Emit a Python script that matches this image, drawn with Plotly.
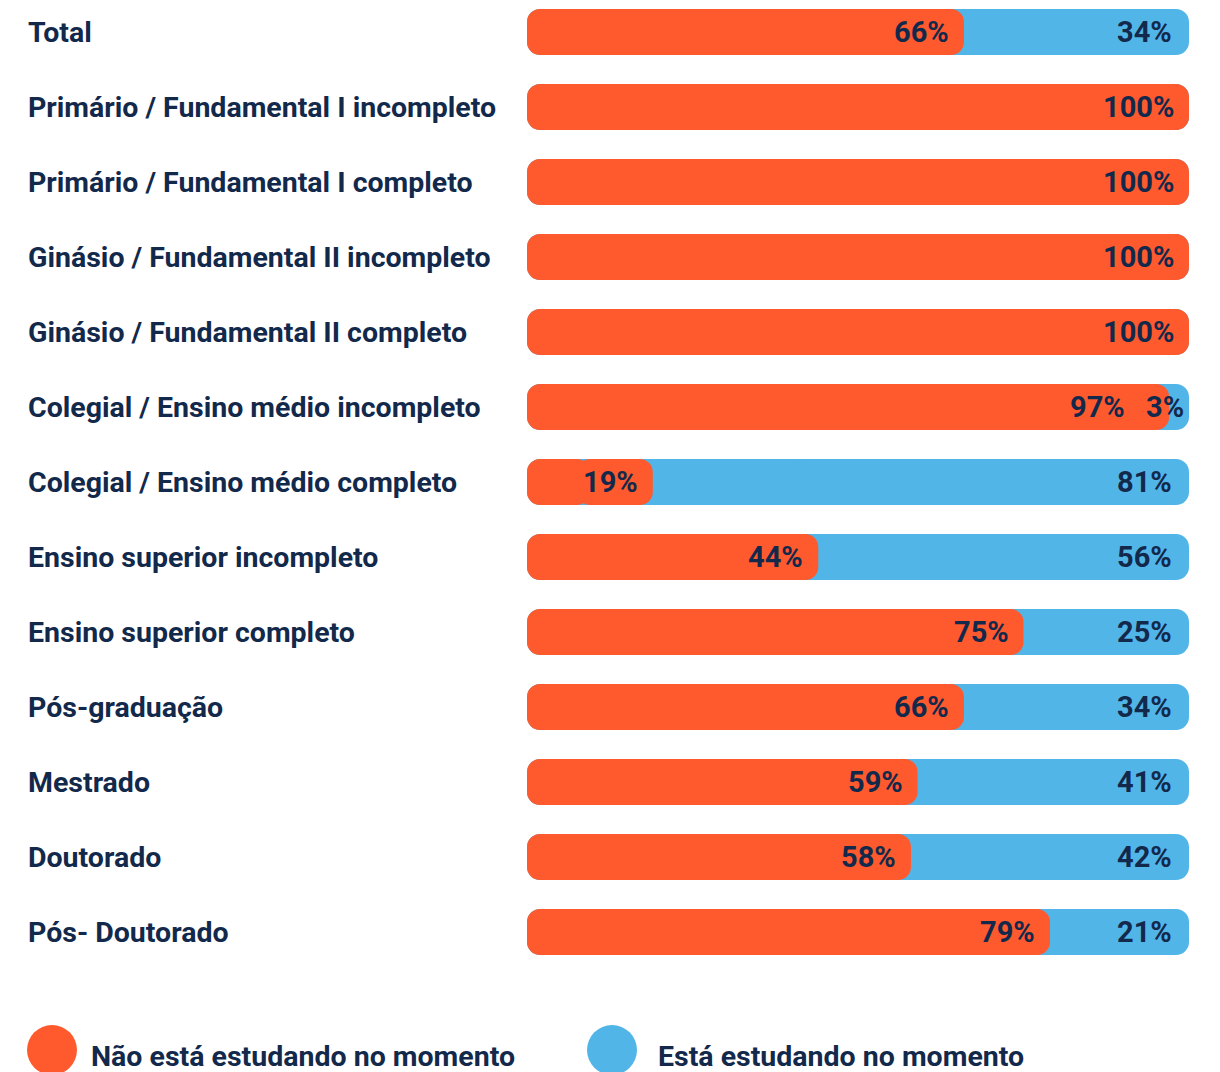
import plotly.graph_objects as go

categories = [
    "Total",
    "Primário / Fundamental I incompleto",
    "Primário / Fundamental I completo",
    "Ginásio / Fundamental II incompleto",
    "Ginásio / Fundamental II completo",
    "Colegial / Ensino médio incompleto",
    "Colegial / Ensino médio completo",
    "Ensino superior incompleto",
    "Ensino superior completo",
    "Pós-graduação",
    "Mestrado",
    "Doutorado",
    "Pós- Doutorado",
]
nao_estuda = [66, 100, 100, 100, 100, 97, 19, 44, 75, 66, 59, 58, 79]
estuda = [34, 0, 0, 0, 0, 3, 81, 56, 25, 34, 41, 42, 21]
series_names = ["Não está estudando no momento", "Está estudando no momento"]

ORANGE = "#FF5A2E"
BLUE = "#52B5E8"
NAVY = "#13294B"
FONT = "Roboto"
RADIUS = 13

W, H = 1220, 1072
ML, MR, MT, MB = 527, 31, 5, 72
pw = W - ML - MR
ph = H - MT - MB

STEP = 75.0      # pixels per category
TOP_CENTER = 32  # pixel centre of first bar
BAR_PX = 46      # bar thickness in pixels

def px_to_paper_x(px):
    return (px - ML) / pw

def px_to_paper_y(py):
    return (H - MB - py) / ph

totals = [a + b for a, b in zip(nao_estuda, estuda)]

def rounded_bar(values, color, name, customdata=None):
    """Two overlapping halves so that both ends get rounded corners."""
    left = go.Bar(
        y=categories, x=[-v * 0.5 for v in values], base=[v * 0.5 for v in values],
        orientation="h", marker=dict(color=color, cornerradius=RADIUS, line=dict(width=0)),
        hoverinfo="skip", name=name,
    )
    right = go.Bar(
        y=categories, x=[v * 0.6 for v in values], base=[v * 0.4 for v in values],
        orientation="h", marker=dict(color=color, cornerradius=RADIUS, line=dict(width=0)),
        name=name,
        customdata=customdata if customdata is not None else values,
        hovertemplate="%{y}<br>" + name + ": %{customdata}%<extra></extra>",
    )
    return [left, right]

fig = go.Figure()
for t in rounded_bar(totals, BLUE, series_names[1], customdata=estuda):
    fig.add_trace(t)
for t in rounded_bar(nao_estuda, ORANGE, series_names[0]):
    fig.add_trace(t)

value_font = dict(family=FONT, size=29, color=NAVY, weight=700)
annotations = []
for c, o, e, tot in zip(categories, nao_estuda, estuda, totals):
    small = 0 < e < 8
    annotations.append(dict(
        x=o, xref="x", xanchor="right", xshift=-42 if small else -13,
        y=c, yref="y", yanchor="middle",
        text=f"{o}%", showarrow=False, font=value_font,
    ))
    if e > 0:
        annotations.append(dict(
            x=tot, xref="x", xanchor="right", xshift=-3 if small else -15,
            y=c, yref="y", yanchor="middle",
            text=f"{e}%", showarrow=False, font=value_font,
        ))

y0 = (MT - TOP_CENTER) / STEP
y1 = y0 + ph / STEP

for c in categories:
    annotations.append(dict(
        x=px_to_paper_x(26), xref="paper", xanchor="left",
        y=c, yref="y", yanchor="middle",
        text=c, showarrow=False,
        font=dict(family=FONT, size=28.5, color=NAVY, weight=700),
    ))

shapes = []
legend_items = [(52, ORANGE, 89, series_names[0]), (612, BLUE, 656, series_names[1])]
for cx, col, tx, label in legend_items:
    r = 25
    cy = 1050
    shapes.append(dict(
        type="circle", xref="paper", yref="paper",
        x0=px_to_paper_x(cx - r), x1=px_to_paper_x(cx + r),
        y0=px_to_paper_y(cy + r), y1=px_to_paper_y(cy - r),
        fillcolor=col, line=dict(width=0),
    ))
    annotations.append(dict(
        x=px_to_paper_x(tx), xref="paper", xanchor="left",
        y=px_to_paper_y(1056), yref="paper", yanchor="middle",
        text=label, showarrow=False,
        font=dict(family=FONT, size=28.5, color=NAVY, weight=700),
    ))

fig.update_layout(
    width=W, height=H,
    margin=dict(l=ML, r=MR, t=MT, b=MB),
    barmode="overlay",
    bargap=1 - BAR_PX / STEP,
    paper_bgcolor="white", plot_bgcolor="white",
    showlegend=False,
    xaxis=dict(range=[0, 100], visible=False, fixedrange=True),
    yaxis=dict(range=[y1, y0], visible=False, type="category", fixedrange=True),
    annotations=annotations,
    shapes=shapes,
)

fig.write_html("out.html")
